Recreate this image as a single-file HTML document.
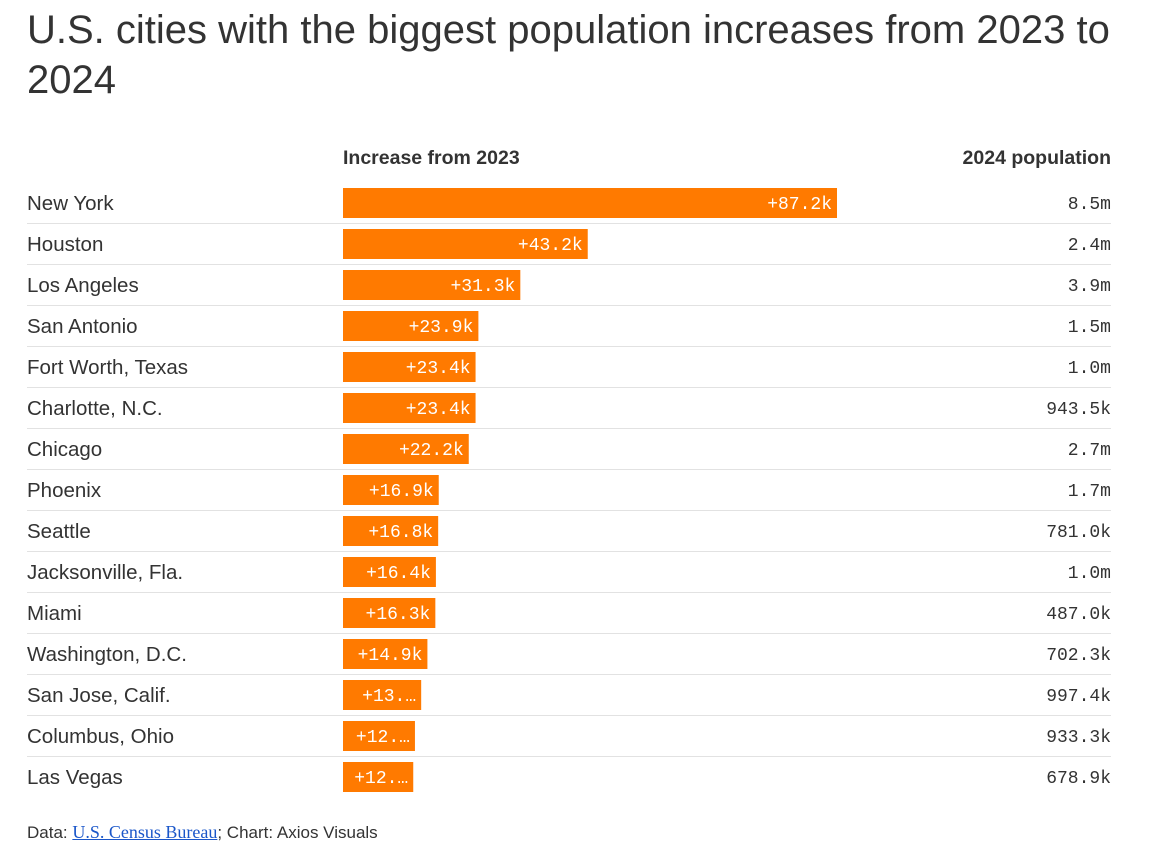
<!DOCTYPE html>
<html><head><meta charset="utf-8"><style>
body{margin:0;background:#fff;width:1155px;height:850px;overflow:hidden;font-family:"Liberation Sans",sans-serif;color:#333;position:relative}
#title{position:absolute;left:27px;top:5px;width:1120px;font-size:40px;line-height:50px;color:#333;margin:0;font-weight:normal}
.h{position:absolute;top:147px;font-size:19.5px;font-weight:bold;color:#333}
#src{position:absolute;left:27px;top:822px;font-size:17px;color:#333}
#src a{color:#1a56c9;font-family:"Liberation Serif",serif;font-size:18px;text-decoration:underline}
</style></head><body>
<h1 id="title">U.S. cities with the biggest population increases from 2023 to 2024</h1>
<div class="h" style="left:343px">Increase from 2023</div>
<div class="h" style="right:44px">2024 population</div>
<svg id="chart" width="1155" height="850" style="position:absolute;left:0;top:0"></svg>
<div id="src">Data: <a>U.S. Census Bureau</a>; Chart: Axios Visuals</div>
<script>
const cities=["New York","Houston","Los Angeles","San Antonio","Fort Worth, Texas","Charlotte, N.C.","Chicago","Phoenix","Seattle","Jacksonville, Fla.","Miami","Washington, D.C.","San Jose, Calif.","Columbus, Ohio","Las Vegas"];
const increases=[87.2,43.2,31.3,23.9,23.4,23.4,22.2,16.9,16.8,16.4,16.3,14.9,13.8,12.7,12.4];
const incLabels=["+87.2k","+43.2k","+31.3k","+23.9k","+23.4k","+23.4k","+22.2k","+16.9k","+16.8k","+16.4k","+16.3k","+14.9k","+13.…","+12.…","+12.…"];
const populations=["8.5m","2.4m","3.9m","1.5m","1.0m","943.5k","2.7m","1.7m","781.0k","1.0m","487.0k","702.3k","997.4k","933.3k","678.9k"];
const svg=document.getElementById('chart');
const NS="http://www.w3.org/2000/svg";
const x0=343, maxW=494, maxV=87.2;
const xs=v=>v/maxV*maxW;
const ys=i=>188+i*41;
function mk(t,a){const e=document.createElementNS(NS,t);for(const k in a)e.setAttribute(k,a[k]);svg.appendChild(e);return e;}
cities.forEach((c,i)=>{
  const y=ys(i);
  if(i<cities.length-1){
    const l=mk('line',{x1:27,x2:1111,y1:y+35.5,y2:y+35.5,stroke:'#e2e2e2','stroke-width':1});
    
    
  }
  const t=mk('text',{x:27,y:y+22,'font-size':20.5,fill:'#333','font-family':'Liberation Sans, sans-serif'});
  t.textContent=c;
  
  
  const w=xs(increases[i]);
  const b=mk('rect',{x:x0,y:y,width:w,height:30,fill:'#ff7a00'});
  
  
  const v=mk('text',{x:x0+w-5,y:y+21,'font-size':18,fill:'#fff','text-anchor':'end','font-family':'Liberation Mono, monospace'});
  v.textContent=incLabels[i];
  
  
  const p=mk('text',{x:1111,y:y+21,'font-size':18,fill:'#333','text-anchor':'end','font-family':'Liberation Mono, monospace'});
  p.textContent=populations[i];
  
  
});
</script>
</body></html>
